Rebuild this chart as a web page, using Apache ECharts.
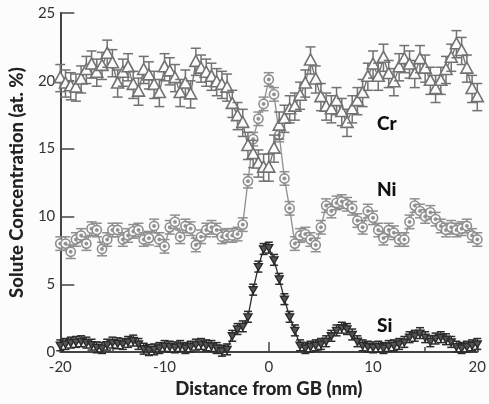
<!DOCTYPE html>
<html>
<head>
<meta charset="utf-8">
<script src="https://cdn.jsdelivr.net/npm/echarts@6/dist/echarts.min.js"></script>
<style>html,body{margin:0;padding:0;background:#fcfcfc;}#c{width:489px;height:404px;}</style>
</head>
<body>
<div id="c"></div>
<script>
var distance = [-20,-19.5,-19,-18.5,-18,-17.5,-17,-16.5,-16,-15.5,-15,-14.5,-14,-13.5,-13,-12.5,-12,-11.5,-11,-10.5,-10,-9.5,-9,-8.5,-8,-7.5,-7,-6.5,-6,-5.5,-5,-4.5,-4,-3.5,-3,-2.5,-2,-1.5,-1,-0.5,0,0.5,1,1.5,2,2.5,3,3.5,4,4.5,5,5.5,6,6.5,7,7.5,8,8.5,9,9.5,10,10.5,11,11.5,12,12.5,13,13.5,14,14.5,15,15.5,16,16.5,17,17.5,18,18.5,19,19.5,20];
var cr = [20.2,19.8,19.6,19.5,20.1,20.8,21.2,20.6,21.1,22.0,
          21.3,19.8,20.6,21.0,19.7,19.2,20.8,20.4,19.7,19.1,
          21.0,20.7,20.2,19.1,19.8,19.0,21.4,20.9,20.6,20.3,
          19.9,19.7,19.5,18.3,17.4,16.9,15.2,14.6,13.9,13.6,
          13.6,15.0,16.7,17.2,17.9,18.1,18.9,19.8,21.5,20.1,
          18.8,18.1,17.9,18.5,17.7,16.9,17.9,18.5,19.1,20.3,
          21.2,20.3,21.7,20.5,19.9,21.0,21.6,21.2,20.5,21.6,
          20.9,20.0,19.4,20.0,20.8,21.7,22.7,22.2,20.9,19.4,
          18.8];
var ni = [8.0,8.0,7.4,8.3,8.6,8.0,9.1,9.0,7.6,8.3,
          9.0,9.0,8.3,8.6,8.9,9.0,8.3,8.4,9.3,8.3,
          7.8,9.2,9.6,8.5,9.3,9.1,7.9,8.5,9.0,9.2,
          9.0,8.5,8.6,8.6,8.7,9.4,12.6,15.7,17.2,18.3,
          20.1,19.0,16.0,12.8,10.6,8.0,8.6,8.7,8.3,7.9,
          9.2,10.8,10.4,11.0,11.1,10.9,10.6,9.7,9.2,10.4,
          9.9,9.0,8.4,9.0,8.8,8.3,8.3,9.6,10.8,10.4,
          10.0,10.3,9.8,9.3,9.0,9.2,9.0,9.1,9.3,8.6,
          8.3];
var si = [0.5,0.6,0.7,0.75,0.8,0.7,0.55,0.35,0.3,0.55,
          0.7,0.65,0.6,0.75,0.85,0.6,0.25,0.15,0.2,0.3,
          0.45,0.4,0.35,0.45,0.3,0.4,0.55,0.6,0.5,0.45,
          0.3,0.1,0.2,1.2,1.7,1.9,2.6,4.6,6.3,7.6,
          7.7,6.8,5.4,3.9,2.6,1.6,0.5,0.3,0.4,0.5,
          0.6,0.8,1.2,1.6,1.8,1.7,1.3,0.8,0.5,0.4,
          0.35,0.4,0.3,0.45,0.5,0.6,0.75,1.1,1.2,1.4,
          1.1,0.8,1.0,1.1,0.95,0.75,0.4,0.3,0.4,0.5,
          0.6];
var crErr = 1.0, niErr = 0.5, siErr = 0.4;
var xTicks = [-20, -10, 0, 10, 20];
var yTicks = [0, 5, 10, 15, 20, 25];

function pts(vals, err) {
  return distance.map(function (d, i) { return [d, vals[i], err]; });
}

var CR_COL = '#727272', NI_COL = '#8f8f8f', SI_COL = '#2b2b2b';

function makeRender(kind) {
  return function (params, api) {
    var x = api.value(0), y = api.value(1), e = api.value(2);
    var c = api.coord([x, y]);
    var top = api.coord([x, y + e]);
    var bot = api.coord([x, y - e]);
    var col = kind === 'cr' ? CR_COL : (kind === 'ni' ? NI_COL : SI_COL);
    var cap = kind === 'si' ? 4 : 5;
    var lw = 1.5;
    var children = [
      {type: 'line', shape: {x1: c[0], y1: top[1], x2: c[0], y2: bot[1]}, style: {stroke: col, lineWidth: lw}},
      {type: 'line', shape: {x1: c[0] - cap, y1: top[1], x2: c[0] + cap, y2: top[1]}, style: {stroke: col, lineWidth: lw}},
      {type: 'line', shape: {x1: c[0] - cap, y1: bot[1], x2: c[0] + cap, y2: bot[1]}, style: {stroke: col, lineWidth: lw}}
    ];
    if (kind === 'cr') {
      children.push({type: 'polygon', shape: {points: [[c[0], c[1] - 6.5], [c[0] + 6, c[1] + 4.5], [c[0] - 6, c[1] + 4.5]]},
        style: {fill: '#fcfcfc', stroke: col, lineWidth: 1.6}});
    } else if (kind === 'ni') {
      children.push({type: 'circle', shape: {cx: c[0], cy: c[1], r: 4.6}, style: {fill: '#fcfcfc', stroke: col, lineWidth: 1.6}});
      children.push({type: 'circle', shape: {cx: c[0], cy: c[1], r: 1.7}, style: {fill: col, stroke: col, lineWidth: 0.5}});
    } else {
      children.push({type: 'polygon', shape: {points: [[c[0] - 4, c[1] - 3], [c[0] + 4, c[1] - 3], [c[0], c[1] + 4]]},
        style: {fill: '#555', stroke: col, lineWidth: 1.4}});
    }
    return {type: 'group', children: children};
  };
}

var chart = echarts.init(document.getElementById('c'), null, {renderer: 'canvas'});
var FONT = 'Lato';
chart.setOption({
  backgroundColor: '#fcfcfc',
  animation: false,
  grid: {left: 57, right: 8, top: 13, bottom: 47, containLabel: false},
  xAxis: {
    type: 'value', min: -20, max: 20, interval: 10,
    name: 'Distance from GB (nm)', nameLocation: 'middle', nameGap: 27,
    nameTextStyle: {fontFamily: FONT, fontWeight: 900, fontSize: 18.5, color: '#222'},
    axisLine: {show: true, onZero: false, lineStyle: {color: '#444', width: 2}},
    axisTick: {show: true, inside: true, length: 10, lineStyle: {color: '#444', width: 1.5}},
    minorTick: {show: true, splitNumber: 2, length: 5, lineStyle: {color: '#444', width: 1.5}},
    splitLine: {show: false},
    axisLabel: {fontFamily: FONT, fontSize: 15, color: '#333', margin: 8,
      formatter: function (v) { return xTicks.indexOf(v) >= 0 ? String(v) : ''; }}
  },
  yAxis: {
    type: 'value', min: 0, max: 25, interval: 5,
    name: 'Solute Concentration (at. %)', nameLocation: 'middle', nameGap: 31,
    nameTextStyle: {fontFamily: FONT, fontWeight: 900, fontSize: 18.5, color: '#222'},
    axisLine: {show: true, onZero: false, lineStyle: {color: '#444', width: 2}},
    axisTick: {show: true, inside: true, length: 14, lineStyle: {color: '#444', width: 1.5}},
    splitLine: {show: false},
    axisLabel: {fontFamily: FONT, fontSize: 15, color: '#333', margin: 5,
      formatter: function (v) { return yTicks.indexOf(v) >= 0 ? String(v) : ''; }}
  },
  series: [
    {type: 'line', data: pts(ni, niErr), symbol: 'none', lineStyle: {color: NI_COL, width: 1.3}, z: 1},
    {type: 'line', data: pts(cr, crErr), symbol: 'none', lineStyle: {color: CR_COL, width: 1.3}, z: 1},
    {type: 'line', data: pts(si, siErr), symbol: 'none', lineStyle: {color: SI_COL, width: 1.3}, z: 1},
    {type: 'custom', renderItem: makeRender('ni'), data: pts(ni, niErr), z: 2, clip: false},
    {type: 'custom', renderItem: makeRender('cr'), data: pts(cr, crErr), z: 3, clip: false},
    {type: 'custom', renderItem: makeRender('si'), data: pts(si, siErr), z: 4, clip: false}
  ],
  graphic: [
    {type: 'text', left: 377, top: 114, style: {text: 'Cr', font: '900 19px Lato', fill: '#111'}},
    {type: 'text', left: 377, top: 180, style: {text: 'Ni', font: '900 19px Lato', fill: '#111'}},
    {type: 'text', left: 377, top: 316, style: {text: 'Si', font: '900 19px Lato', fill: '#111'}}
  ]
});
</script>
</body>
</html>
